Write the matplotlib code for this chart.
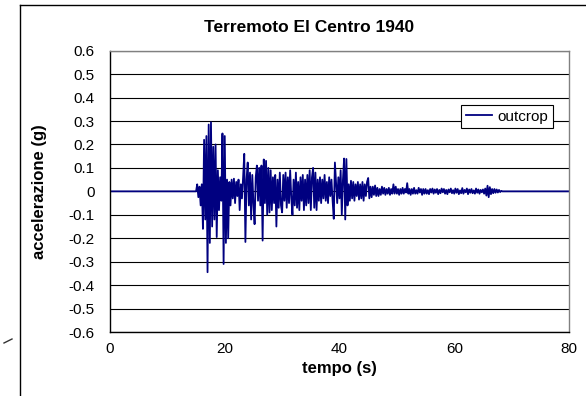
import numpy as np
import matplotlib.pyplot as plt
from matplotlib.lines import Line2D

plt.rcParams['font.family'] = ['Liberation Sans', 'DejaVu Sans']

# Accelerogram: samples every 0.2 s starting at 15 s (g)
t_start = 15.0
dt = 0.2
acc_15 = [0.0, 0.03, -0.025, 0.02, -0.06, 0.03, -0.16, 0.22, -0.12, 0.236,
          -0.345, 0.285, -0.22, 0.295, -0.15, 0.19, -0.12, 0.20, -0.195, 0.09,
          -0.08, 0.06, -0.04, 0.247, -0.31]
acc_20 = [0.236, -0.22, 0.05, -0.20, 0.04, -0.06, 0.05, -0.03, 0.054, -0.05,
          0.04, -0.02, 0.05, -0.08, 0.03, -0.03, 0.06, 0.16, -0.216, 0.05,
          0.123, -0.06, 0.08, -0.12, 0.07]
acc_25 = [-0.05, -0.14, 0.06, 0.11, -0.04, 0.10, -0.06, 0.11, -0.21, 0.136,
          -0.05, 0.13, -0.10, 0.10, -0.09, 0.09, -0.08, 0.06, -0.05, 0.07,
          -0.15, 0.05, -0.07, 0.08, -0.06]
acc_30 = [-0.09, 0.07, -0.04, 0.08, -0.07, 0.06, -0.05, 0.09, -0.03, -0.10,
          0.05, -0.06, 0.08, -0.07, 0.04, -0.08, 0.06, -0.04, 0.07, -0.08,
          0.05, -0.06, 0.07, -0.05, 0.09]
acc_35 = [-0.08, 0.06, 0.10, -0.07, 0.08, -0.08, 0.05, -0.04, 0.06, -0.05,
          0.05, -0.03, 0.07, -0.04, 0.04, -0.05, 0.06, -0.02, 0.05, -0.04,
          -0.117, 0.123, 0.04, -0.05, 0.06]
acc_40 = [-0.03, 0.09, -0.10, 0.05, 0.14, -0.12, 0.138, -0.06, 0.03, -0.04,
          0.045, -0.03, 0.04, -0.04, 0.03, -0.02, 0.04, -0.035, 0.03, -0.03,
          0.04, -0.04, 0.03, -0.02, 0.04]
acc_45 = [0.057, -0.03, 0.02, -0.025, 0.02, -0.015, 0.025, -0.02, 0.015, -0.02,
          0.01, -0.015, 0.02, -0.01, 0.015, -0.015, 0.01, -0.01, 0.015, -0.015,
          0.01, -0.01, 0.03, -0.01, 0.02]
acc_50 = [-0.01, 0.01, -0.015, 0.01, -0.01, 0.015, -0.01, 0.01, -0.005, 0.035,
          -0.01, 0.01, -0.015, 0.01, -0.01, 0.015, -0.01, 0.005, -0.01, 0.015,
          -0.005, 0.01, -0.015, 0.01, -0.01]
acc_55 = [0.01, -0.01, 0.005, -0.012, 0.01, -0.005, 0.012, -0.01, 0.008, -0.006,
          0.01, -0.012, 0.006, -0.008, 0.012, -0.004, 0.01, -0.01, 0.006, -0.012,
          0.008, -0.004, 0.012, -0.008, 0.005]
acc_60 = [-0.01, 0.012, -0.006, 0.01, -0.012, 0.004, -0.008, 0.014, -0.01, 0.006,
          -0.004, 0.012, -0.012, 0.008, -0.006, 0.01, -0.008, 0.004, -0.01, 0.012,
          -0.006, 0.008, -0.01, 0.006, -0.004]
acc_65 = [0.008, -0.01, 0.012, -0.018, 0.024, -0.025, 0.018, -0.012, 0.01, -0.008,
          0.01, -0.006, 0.008, -0.005, 0.006, -0.003, 0.002, 0.0]

acc = acc_15 + acc_20 + acc_25 + acc_30 + acc_35 + acc_40 + acc_45 + acc_50 + acc_55 + acc_60 + acc_65
t_rec = t_start + dt * np.arange(len(acc))

# quiet record before and after the shaking
time = np.concatenate([[0.0], t_rec, [80.0]])
accel = np.concatenate([[0.0], acc, [0.0]])

y_ticks = [-0.6, -0.5, -0.4, -0.3, -0.2, -0.1, 0.0, 0.1, 0.2, 0.3, 0.4, 0.5, 0.6]
y_labels = ['-0.6', '-0.5', '-0.4', '-0.3', '-0.2', '-0.1', '0', '0.1', '0.2', '0.3', '0.4', '0.5', '0.6']
x_ticks = [0, 20, 40, 60, 80]

# Plot
fig = plt.figure(figsize=(5.86, 3.96), dpi=100)
ax = fig.add_axes([110 / 586, 1 - 332 / 396, 459 / 586, 281.3 / 396])
ax.plot(time, accel, color='#000080', linewidth=1.3, label='outcrop')

ax.set_xlim(0, 80)
ax.set_ylim(-0.6, 0.6)
ax.set_xticks(x_ticks)
ax.set_yticks(y_ticks)
ax.set_yticklabels(y_labels)
ax.tick_params(axis='both', length=0, labelsize=11)
ax.tick_params(axis='y', pad=11)
ax.tick_params(axis='x', pad=7)
ax.yaxis.grid(True, color='black', linewidth=0.8)
ax.set_axisbelow(True)

ax.spines['left'].set_color('black')
ax.spines['bottom'].set_color('black')
ax.spines['top'].set_color('#808080')
ax.spines['right'].set_color('#808080')
for s in ax.spines.values():
    s.set_linewidth(1.0)

ax.set_xlabel('tempo (s)', fontsize=12, fontweight='bold')
ax.set_ylabel('accelerazione (g)', fontsize=12, fontweight='bold')
ax.xaxis.set_label_coords(0.5, -(361 - 332) / 281.3)
ax.yaxis.set_label_coords((47 - 110) / 459, 0.5)
fig.text(309 / 586, 1 - 27 / 396, 'Terremoto El Centro 1940', fontsize=12.5,
         fontweight='bold', ha='center', va='center')

leg = ax.legend(loc='upper right', bbox_to_anchor=(553 / 586, 1 - 105 / 396),
                bbox_transform=fig.transFigure, fontsize=11, frameon=True,
                fancybox=False, framealpha=1, edgecolor='black',
                handlelength=1.7, handletextpad=0.4, borderpad=0.3, borderaxespad=0)
leg.get_frame().set_linewidth(0.8)

# chart area frame (cut off on the right and bottom)
fig.add_artist(Line2D([20 / 586, 20 / 586], [0, 1 - 4.5 / 396], color='black', linewidth=1.0))
fig.add_artist(Line2D([20 / 586, 1], [1 - 4.5 / 396, 1 - 4.5 / 396], color='black', linewidth=1.0))
fig.add_artist(Line2D([4 / 586, 12 / 586], [1 - 343 / 396, 1 - 339 / 396], color='#333333', linewidth=1.0))

fig.savefig('out.png', dpi=100)
